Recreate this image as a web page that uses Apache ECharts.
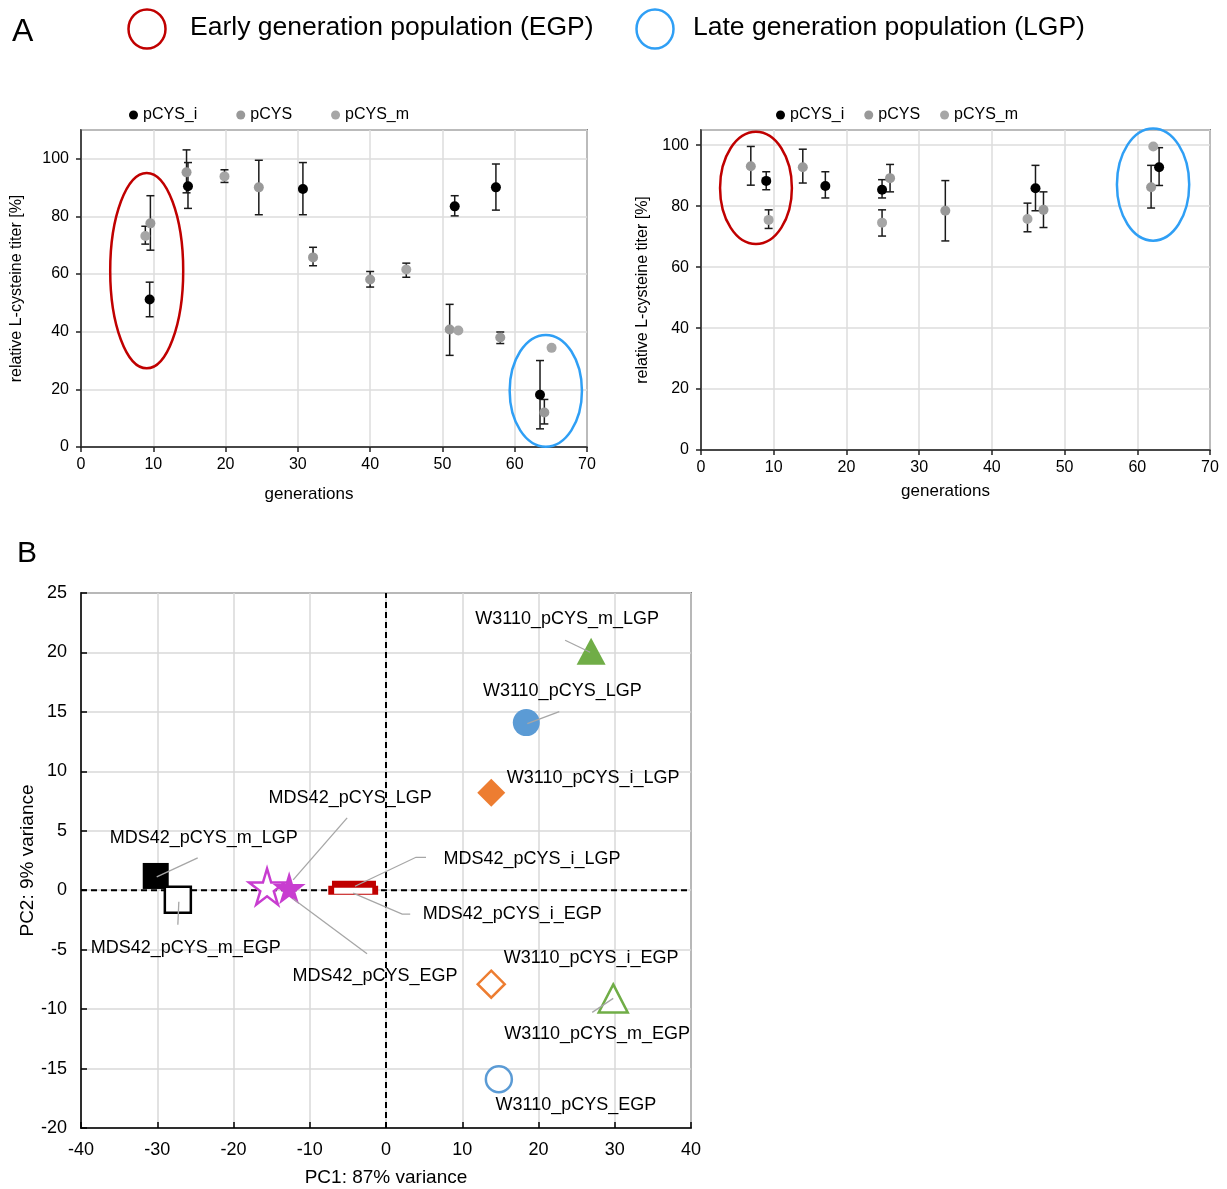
<!DOCTYPE html>
<html>
<head>
<meta charset="utf-8">
<script src="https://cdn.jsdelivr.net/npm/echarts@6/dist/echarts.min.js"></script>
<style>
html, body { margin: 0; padding: 0; background: #fff; }
#chart { width: 1227px; height: 1189px; }
</style>
</head>
<body>
<div id="chart"></div>
<script>
// Panel A, left chart: [generation, mean, low, high]
const leftI = [[9.5, 51.2, 45.2, 57.2], [14.8, 90.5, 82.8, 98.7], [30.7, 89.5, 80.6, 98.7],
  [51.7, 83.5, 80.2, 87.2], [57.4, 90.1, 82.2, 98.2], [63.5, 18.1, 6.3, 30.0]];
const leftP = [[9.6, 77.6, 68.3, 87.2], [14.6, 95.3, 88.2, 103.1], [24.6, 90.1, 80.6, 99.5],
  [32.1, 65.8, 62.9, 69.3], [40.0, 58.1, 55.5, 60.9], [51.0, 40.8, 31.8, 49.5],
  [58.0, 38.0, 35.9, 39.9], [64.1, 12.0, 8.0, 16.5]];
const leftM = [[8.9, 73.2, 70.4, 76.6], [19.85, 93.9, 91.8, 96.2], [45.0, 61.6, 58.9, 63.8],
  [52.2, 40.4, null, null], [65.1, 34.4, null, null]];

// Panel A, right chart
const rightI = [[8.97, 88.3, 85.4, 91.3], [17.1, 86.6, 82.7, 91.3], [24.9, 85.4, 82.7, 88.7],
  [46.0, 85.9, 78.5, 93.4], [63.0, 92.8, 86.8, 99.2]];
const rightP = [[6.85, 93.1, 86.9, 99.6], [14.0, 92.8, 87.6, 98.7], [26.0, 89.2, 84.7, 93.7],
  [33.6, 78.5, 68.6, 88.4], [47.1, 78.8, 73.0, 84.7], [61.9, 86.2, 79.4, 93.4]];
const rightM = [[9.3, 75.5, 72.7, 78.8], [24.9, 74.6, 70.2, 78.8], [44.9, 75.8, 71.6, 81.0],
  [62.2, 99.6, null, null]];

// highlighted populations: [centre gen, centre %, radius gen, radius %]
const leftEgp = [[9.09, 61.2, 5.05, 33.9]];
const leftLgp = [[64.3, 19.5, 5.0, 19.4]];
const rightEgp = [[7.56, 86.0, 4.94, 18.4]];
const rightLgp = [[62.17, 87.1, 4.97, 18.4]];

const seriesNames = ['pCYS_i', 'pCYS', 'pCYS_m'];
const genTicks = [0, 70, 10];

// Panel B, PCA
const pcaNames = ['W3110_pCYS_m_LGP', 'W3110_pCYS_LGP', 'W3110_pCYS_i_LGP',
  'MDS42_pCYS_m_LGP', 'MDS42_pCYS_m_EGP', 'MDS42_pCYS_EGP', 'MDS42_pCYS_LGP',
  'MDS42_pCYS_i_EGP', 'MDS42_pCYS_i_LGP',
  'W3110_pCYS_i_EGP', 'W3110_pCYS_m_EGP', 'W3110_pCYS_EGP'];
const pc1 = [26.9, 18.4, 13.8, -30.2, -27.3, -15.6, -12.7, -4.3, -4.2, 13.8, 29.8, 14.8];
const pc2 = [20.1, 14.1, 8.2, 1.2, -0.8, 0.3, 0.2, 0.0, 0.5, -7.9, -9.1, -15.9];

// marker styles for the PCA points
const star = 'path://M50,0 L61,35 L98,35 L68,57 L79,91 L50,70 L21,91 L32,57 L2,35 L39,35 Z';
const pcaSymbol = ['triangle', 'circle', 'diamond', 'rect', 'rect', star, star, 'rect', 'rect', 'diamond', 'triangle', 'circle'];
const pcaSize = [[29, 27], 27, 28, 26, 26, 36, 33, [44, 8], [44, 7], 27, [29, 28], 26];
const pcaColor = ['#70ad47', '#5b9bd5', '#ed7d31', '#000000', '#000000', '#c83dd0', '#c83dd0',
  '#c00000', '#c00000', '#ed7d31', '#70ad47', '#5b9bd5'];
const pcaFilled = [true, true, true, true, false, false, true, false, true, false, false, false];
const labelOffset = [[-24, -32], [36, -32], [102, -15], [48, -38], [8, 48], [108, 89], [61, -90],
  [159, 24], [178, -25], [100, -26], [-16, 36], [77, 26]];
const leaders = [[[-26, -11], [-1, 1]], [[33, -11], [1, 1]], null, [[42, -18], [1, 1]], [[0, 25], [1, 2]],
  [[100, 67], [26, 12]], [[58, -70], [4, -8]], [[57, 24], [49, 24], [0, 3]], [[72, -27], [62, -27], [1, 2]],
  null, [[-21, 14], [0, 0]], null];

const font = 'Liberation Sans, Arial, Helvetica, sans-serif';
const dotColors = ['#000000', '#999999', '#a6a6a6'];

const chart = echarts.init(document.getElementById('chart'), null, { renderer: 'canvas' });

function errorBars(params, api) {
  const x = api.value(0);
  const top = api.coord([x, api.value(3)]);
  const bot = api.coord([x, api.value(2)]);
  const w = 4;
  const st = { stroke: '#1a1a1a', lineWidth: 1.5 };
  return {
    type: 'group',
    children: [
      { type: 'line', shape: { x1: top[0], y1: top[1], x2: bot[0], y2: bot[1] }, style: st },
      { type: 'line', shape: { x1: top[0] - w, y1: top[1], x2: top[0] + w, y2: top[1] }, style: st },
      { type: 'line', shape: { x1: bot[0] - w, y1: bot[1], x2: bot[0] + w, y2: bot[1] }, style: st }
    ]
  };
}

function ring(color) {
  return function (params, api) {
    const c = api.coord([api.value(0), api.value(1)]);
    const s = api.size([api.value(2), api.value(3)]);
    return {
      type: 'ellipse',
      shape: { cx: c[0], cy: c[1], rx: s[0], ry: s[1] },
      style: { fill: null, stroke: color, lineWidth: 2.5 }
    };
  };
}

function leaderLines(params, api) {
  const i = api.value(2);
  const p = api.coord([api.value(0), api.value(1)]);
  return {
    type: 'polyline',
    shape: { points: leaders[i].map(o => [p[0] + o[0], p[1] + o[1]]) },
    style: { stroke: '#a6a6a6', lineWidth: 1.3, fill: null }
  };
}

const axisText = { color: '#000', fontFamily: font };

function genAxis(grid, gap, shift) {
  return {
    type: 'value', gridIndex: grid, min: genTicks[0], max: genTicks[1], interval: genTicks[2],
    name: 'generations', nameLocation: 'middle', nameGap: gap,
    nameTextStyle: Object.assign({ fontSize: 17, padding: [0, shift, 0, 0] }, axisText),
    axisLine: { onZero: false, lineStyle: { color: '#222', width: 1.5 } },
    axisTick: { show: true, inside: false, length: 5, lineStyle: { color: '#222', width: 1.5 } },
    axisLabel: Object.assign({ fontSize: 16, margin: 10 }, axisText),
    splitLine: { show: true, lineStyle: { color: '#dcdcdc', width: 1.5 } }
  };
}

function titerAxis(grid, max, gap) {
  return {
    type: 'value', gridIndex: grid, min: 0, max: max, interval: 20,
    name: 'relative L-cysteine titer [%]', nameLocation: 'middle', nameGap: gap,
    nameTextStyle: Object.assign({ fontSize: 16 }, axisText),
    axisLine: { show: true, onZero: false, lineStyle: { color: '#222', width: 1.5 } },
    axisTick: { show: true, inside: false, length: 5, lineStyle: { color: '#222', width: 1.5 } },
    axisLabel: Object.assign({ fontSize: 16, margin: 12, showMaxLabel: false }, axisText),
    splitLine: { show: true, lineStyle: { color: '#dcdcdc', width: 1.5 } }
  };
}

const series = [];

// panel A
[[leftI, leftP, leftM], [rightI, rightP, rightM]].forEach((sets, g) => {
  sets.forEach((rows, k) => {
    series.push({
      type: 'custom', name: seriesNames[k] + ' error', xAxisIndex: g, yAxisIndex: g,
      renderItem: errorBars, encode: { x: 0, y: [1, 2, 3] },
      data: rows.filter(r => r[2] !== null), z: 2, silent: true
    });
  });
  sets.forEach((rows, k) => {
    series.push({
      type: 'scatter', name: seriesNames[k], xAxisIndex: g, yAxisIndex: g,
      data: rows.map(r => [r[0], r[1]]), symbol: 'circle', symbolSize: 10,
      itemStyle: { color: dotColors[k], opacity: 1 }, z: 3
    });
  });
});

[[leftEgp, 0, '#c00000'], [leftLgp, 0, '#2f9ff5'], [rightEgp, 1, '#c00000'], [rightLgp, 1, '#2f9ff5']]
  .forEach(([rows, g, color]) => {
    series.push({
      type: 'custom', name: 'ring', xAxisIndex: g, yAxisIndex: g, renderItem: ring(color),
      encode: { x: 0, y: 1 }, data: rows, clip: false, z: 4, silent: true
    });
  });

// panel B reference lines
series.push({
  type: 'line', xAxisIndex: 2, yAxisIndex: 2, data: [[0, -20], [0, 25]], symbol: 'none',
  lineStyle: { color: '#000', width: 2, type: [6, 4] }, z: 1, silent: true
});
series.push({
  type: 'line', xAxisIndex: 2, yAxisIndex: 2, data: [[-40, 0], [40, 0]], symbol: 'none',
  lineStyle: { color: '#000', width: 2, type: [6, 4] }, z: 1, silent: true
});

pcaNames.forEach((name, i) => {
  series.push({
    type: 'scatter', name: name, xAxisIndex: 2, yAxisIndex: 2,
    data: [[pc1[i], pc2[i]]], symbol: pcaSymbol[i], symbolSize: pcaSize[i],
    itemStyle: pcaFilled[i]
      ? { color: pcaColor[i], opacity: 1 }
      : { color: '#ffffff', borderColor: pcaColor[i], borderWidth: 2.5, opacity: 1 },
    label: {
      show: true, position: 'inside', offset: labelOffset[i], formatter: name,
      fontSize: 18, color: '#000', fontFamily: font
    },
    z: 2
  });
});

series.push({
  type: 'custom', name: 'leaders', xAxisIndex: 2, yAxisIndex: 2, renderItem: leaderLines,
  encode: { x: 0, y: 1 },
  data: pcaNames.map((n, i) => [pc1[i], pc2[i], i]).filter(r => leaders[r[2]]),
  clip: false, z: 3, silent: true
});

const legendBase = {
  data: seriesNames, icon: 'circle', itemWidth: 9, itemHeight: 9, top: 102,
  textStyle: { fontSize: 16, color: '#000', fontFamily: font }, selectedMode: false
};

const option = {
  animation: false,
  backgroundColor: '#fff',
  textStyle: { fontFamily: font },
  legend: [
    Object.assign({ left: 124, itemGap: 39 }, legendBase),
    Object.assign({ left: 771, itemGap: 20 }, legendBase)
  ],
  grid: [
    { left: 81, top: 130, width: 506, height: 317, show: true, borderColor: '#222', borderWidth: 1.5, outerBoundsMode: 'none', containLabel: false },
    { left: 701, top: 130, width: 509, height: 320, show: true, borderColor: '#222', borderWidth: 1.5, outerBoundsMode: 'none', containLabel: false },
    { left: 81, top: 593, width: 610, height: 535, show: true, borderColor: '#222', borderWidth: 1.5, outerBoundsMode: 'none', containLabel: false }
  ],
  xAxis: [
    genAxis(0, 39, 50),
    genAxis(1, 33, 20),
    {
      type: 'value', gridIndex: 2, min: -40, max: 40, interval: 10,
      name: 'PC1: 87% variance', nameLocation: 'middle', nameGap: 40,
      nameTextStyle: Object.assign({ fontSize: 19 }, axisText),
      axisLine: { onZero: false, lineStyle: { color: '#000', width: 1.5 } },
      axisTick: { show: true, inside: true, length: 6, lineStyle: { color: '#000', width: 1.5 } },
      axisLabel: Object.assign({ fontSize: 18, margin: 13 }, axisText),
      splitLine: { show: true, lineStyle: { color: '#d9d9d9', width: 1.5 } }
    }
  ],
  yAxis: [
    titerAxis(0, 110, 56),
    titerAxis(1, 105, 50),
    {
      type: 'value', gridIndex: 2, min: -20, max: 25, interval: 5,
      name: 'PC2: 9% variance', nameLocation: 'middle', nameGap: 42,
      nameTextStyle: Object.assign({ fontSize: 19 }, axisText),
      axisLine: { show: true, onZero: false, lineStyle: { color: '#000', width: 1.5 } },
      axisTick: { show: true, inside: true, length: 6, lineStyle: { color: '#000', width: 1.5 } },
      axisLabel: Object.assign({ fontSize: 18, margin: 14 }, axisText),
      splitLine: { show: true, lineStyle: { color: '#d9d9d9', width: 1.5 } }
    }
  ],
  graphic: [
    { type: 'text', x: 12, y: 32, style: { text: 'A', font: '32px ' + font, fill: '#000', verticalAlign: 'middle' } },
    { type: 'ellipse', shape: { cx: 147, cy: 29, rx: 18.5, ry: 19.5 }, style: { fill: null, stroke: '#c00000', lineWidth: 2.5 } },
    { type: 'text', x: 190, y: 28, style: { text: 'Early generation population (EGP)', font: '26.5px ' + font, fill: '#000', verticalAlign: 'middle' } },
    { type: 'ellipse', shape: { cx: 655, cy: 29, rx: 18.5, ry: 19.5 }, style: { fill: null, stroke: '#2f9ff5', lineWidth: 2.5 } },
    { type: 'text', x: 693, y: 28, style: { text: 'Late generation population (LGP)', font: '26.5px ' + font, fill: '#000', verticalAlign: 'middle' } },
    { type: 'text', x: 17, y: 554, style: { text: 'B', font: '30px ' + font, fill: '#000', verticalAlign: 'middle' } }
  ],
  series: series
};

chart.setOption(option);
window.addEventListener('resize', chart.resize);
</script>
</body>
</html>
